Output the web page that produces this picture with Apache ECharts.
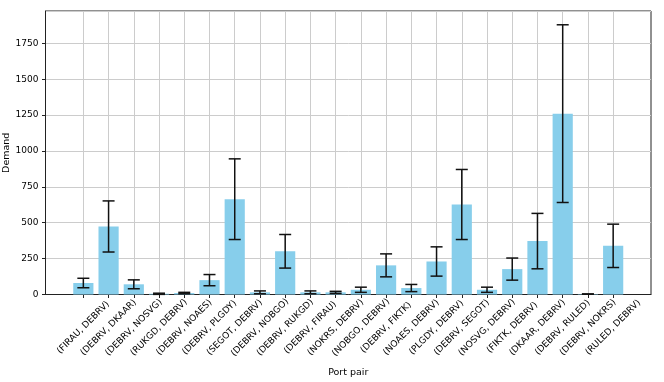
<!DOCTYPE html>
<html>
<head>
<meta charset="utf-8">
<script src="https://cdn.jsdelivr.net/npm/echarts@6.0.0/dist/echarts.min.js"></script>
<style>
  html, body { margin: 0; padding: 0; background: #fff; }
  #chart { width: 664px; height: 382px; }
</style>
</head>
<body>
<div id="chart"></div>
<script>
// port pairs along the x axis
const portPairs = [
  '(FIRAU, DEBRV)', '(DEBRV, DKAAR)', '(DEBRV, NOSVG)', '(RUKGD, DEBRV)',
  '(DEBRV, NOAES)', '(DEBRV, PLGDY)', '(SEGOT, DEBRV)', '(DEBRV, NOBGO)',
  '(DEBRV, RUKGD)', '(DEBRV, FIRAU)', '(NOKRS, DEBRV)', '(NOBGO, DEBRV)',
  '(DEBRV, FIKTK)', '(NOAES, DEBRV)', '(PLGDY, DEBRV)', '(DEBRV, SEGOT)',
  '(NOSVG, DEBRV)', '(FIKTK, DEBRV)', '(DKAAR, DEBRV)', '(DEBRV, RULED)',
  '(DEBRV, NOKRS)', '(RULED, DEBRV)'
];
// mean demand per pair
const demandMean = [
  80, 474, 71, 5, 10, 100, 664, 15, 301, 15, 15,
  33, 203, 45, 230, 627, 33, 177, 372, 1260, 3, 339
];
// error (std) per pair
const demandErr = [
  33, 178, 31, 4, 5, 39, 281, 10, 117, 10, 7,
  18, 80, 25, 102, 244, 18, 77, 193, 619, 1, 151
];
const yTicks = { min: 0, max: 1975, step: 250 };

// one empty slot on each side gives matplotlib-like side padding
const cats = [' '].concat(portPairs, ['  ']);
const isReal = (i) => i >= 1 && i <= portPairs.length;

const barData = ['-'].concat(demandMean, ['-']);
const errData = demandMean.map((m, i) => [i + 1, m, demandErr[i]]);

const font = 'DejaVu Sans';
const chart = echarts.init(document.getElementById('chart'));

chart.setOption({
  animation: false,
  backgroundColor: '#fff',
  textStyle: { fontFamily: font },
  grid: {
    left: 45.5, right: 13, top: 11, bottom: 87.5,
    outerBoundsMode: 'none',
    containLabel: false,
    show: true, borderColor: '#222', borderWidth: 1,
    backgroundColor: 'transparent'
  },
  xAxis: {
    type: 'category',
    data: cats,
    boundaryGap: true,
    name: 'Port pair',
    nameLocation: 'middle',
    nameGap: 73,
    nameMoveOverlap: false,
    nameTextStyle: { fontFamily: font, fontSize: 9.5, color: '#000' },
    axisLine: { show: true, lineStyle: { color: '#222', width: 1 } },
    axisTick: {
      show: true, alignWithLabel: true, length: 3.5,
      interval: (i) => isReal(i),
      lineStyle: { color: '#222', width: 1 }
    },
    splitLine: {
      show: true, alignWithLabel: true,
      interval: (i) => isReal(i),
      lineStyle: { color: '#cccccc', width: 1 }
    },
    axisLabel: {
      interval: 0,
      rotate: 45,
      align: 'center',
      verticalAlign: 'middle',
      margin: 33,
      fontFamily: font,
      fontSize: 9,
      color: '#000'
    }
  },
  yAxis: {
    type: 'value',
    min: yTicks.min,
    max: yTicks.max,
    interval: yTicks.step,
    name: 'Demand',
    nameLocation: 'middle',
    nameGap: 34,
    nameRotate: 90,
    nameMoveOverlap: false,
    nameTextStyle: { fontFamily: font, fontSize: 9.5, color: '#000' },
    axisLine: { show: true, lineStyle: { color: '#222', width: 1 } },
    axisTick: { show: true, length: 3.5, lineStyle: { color: '#222', width: 1 } },
    splitLine: { show: true, lineStyle: { color: '#cccccc', width: 1 } },
    axisLabel: {
      showMaxLabel: false,
      margin: 7,
      fontFamily: font,
      fontSize: 9,
      color: '#000',
      formatter: (v) => String(v)
    }
  },
  series: [
    {
      type: 'bar',
      data: barData,
      barWidth: '80%',
      itemStyle: { color: '#87ceeb' }
    },
    {
      type: 'custom',
      data: errData,
      z: 5,
      renderItem: function (params, api) {
        const x = api.value(0);
        const m = api.value(1);
        const e = api.value(2);
        const top = api.coord([x, m + e]);
        const bot = api.coord([x, Math.max(0, m - e)]);
        const cap = 6;
        const style = { stroke: '#111', lineWidth: 1.5 };
        return {
          type: 'group',
          children: [
            { type: 'line', shape: { x1: top[0], y1: top[1], x2: bot[0], y2: bot[1] }, style: style },
            { type: 'line', shape: { x1: top[0] - cap, y1: top[1], x2: top[0] + cap, y2: top[1] }, style: style },
            { type: 'line', shape: { x1: bot[0] - cap, y1: bot[1], x2: bot[0] + cap, y2: bot[1] }, style: style }
          ]
        };
      }
    }
  ]
});
</script>
</body>
</html>
